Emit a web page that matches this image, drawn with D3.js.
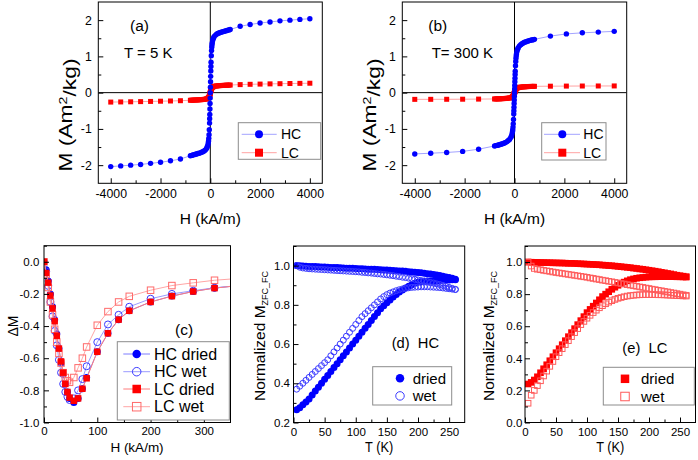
<!DOCTYPE html>
<html><head><meta charset="utf-8">
<script src="https://cdn.jsdelivr.net/npm/d3@7"></script>
<style>body{margin:0;background:#fff}</style>
</head><body>
<svg id="c" width="698" height="460" xmlns="http://www.w3.org/2000/svg"></svg>
<script>
// ---------------- DATA ----------------
// (a) T = 5 K hysteresis
const hA = [-4000,-3600,-3200,-2800,-2400,-2000,-1600,-1200,-800,-750,-700,-650,-600,-550,-500,-450,-400,-350,-300,-250,-200,-150,-125,-100,-80,-70,-60,-50,-40,-30,-25,-20,-15,-10,-5,0,5,10,15,20,25,30,40,50,60,70,80,100,125,150,200,250,300,350,400,450,500,550,600,650,700,750,800,1200,1600,2000,2400,2800,3200,3600,4000];
const mA_HC = [-2.04,-2.02,-2.0,-1.98,-1.95,-1.92,-1.88,-1.83,-1.74,-1.73,-1.72,-1.71,-1.70,-1.69,-1.68,-1.67,-1.66,-1.645,-1.63,-1.61,-1.58,-1.54,-1.5,-1.45,-1.38,-1.33,-1.26,-1.16,-1.02,-0.84,-0.72,-0.6,-0.45,-0.3,-0.15,0,0.15,0.3,0.45,0.6,0.72,0.84,1.02,1.16,1.26,1.33,1.38,1.45,1.5,1.54,1.58,1.61,1.63,1.645,1.66,1.67,1.68,1.69,1.70,1.71,1.72,1.73,1.74,1.83,1.88,1.92,1.95,1.98,2.0,2.02,2.04];
const mA_LC = [-0.26,-0.256,-0.252,-0.247,-0.242,-0.236,-0.23,-0.222,-0.21,-0.208,-0.207,-0.205,-0.203,-0.201,-0.199,-0.197,-0.195,-0.192,-0.189,-0.185,-0.18,-0.172,-0.166,-0.158,-0.148,-0.141,-0.132,-0.12,-0.105,-0.084,-0.072,-0.06,-0.045,-0.03,-0.015,0,0.015,0.03,0.045,0.06,0.072,0.084,0.105,0.12,0.132,0.141,0.148,0.158,0.166,0.172,0.18,0.185,0.189,0.192,0.195,0.197,0.199,0.201,0.203,0.205,0.207,0.208,0.21,0.222,0.23,0.236,0.242,0.247,0.252,0.256,0.26];
// (b) T = 300 K hysteresis
const hB = [-4000,-3360,-2720,-2080,-1440,-800,-750,-700,-650,-600,-550,-500,-450,-400,-350,-300,-250,-200,-150,-125,-100,-80,-70,-60,-50,-40,-30,-25,-20,-15,-10,-5,0,5,10,15,20,25,30,40,50,60,70,80,100,125,150,200,250,300,350,400,450,500,550,600,650,700,750,800,1440,2080,2720,3360,4000];
const mB_HC = [-1.69,-1.67,-1.65,-1.62,-1.56,-1.47,-1.46,-1.455,-1.445,-1.435,-1.425,-1.415,-1.40,-1.39,-1.37,-1.35,-1.32,-1.29,-1.24,-1.2,-1.14,-1.07,-1.02,-0.95,-0.86,-0.74,-0.59,-0.5,-0.4,-0.3,-0.2,-0.1,0,0.1,0.2,0.3,0.4,0.5,0.59,0.74,0.86,0.95,1.02,1.07,1.14,1.2,1.24,1.29,1.32,1.35,1.37,1.39,1.40,1.415,1.425,1.435,1.445,1.455,1.46,1.47,1.56,1.62,1.65,1.67,1.69];
const mB_LC = [-0.185,-0.184,-0.183,-0.181,-0.178,-0.174,-0.173,-0.172,-0.171,-0.17,-0.168,-0.166,-0.164,-0.162,-0.159,-0.156,-0.152,-0.147,-0.14,-0.135,-0.127,-0.117,-0.11,-0.1,-0.09,-0.075,-0.06,-0.05,-0.04,-0.03,-0.02,-0.01,0,0.01,0.02,0.03,0.04,0.05,0.06,0.075,0.09,0.1,0.11,0.117,0.127,0.135,0.14,0.147,0.152,0.156,0.159,0.162,0.164,0.166,0.168,0.17,0.171,0.172,0.173,0.174,0.178,0.181,0.183,0.184,0.185];
// (c) Delta M
const hC = [0,4,8,12,16,20,24,28,32,36,40,44,48,56,64,72,80,100,120,140,160,200,240,280,320,360];
const dM_HCdried = [0,-0.05,-0.12,-0.2,-0.28,-0.36,-0.45,-0.54,-0.63,-0.70,-0.76,-0.81,-0.85,-0.875,-0.85,-0.79,-0.72,-0.56,-0.445,-0.36,-0.305,-0.25,-0.213,-0.185,-0.163,-0.15];
const dM_HCwet   = [0,-0.06,-0.15,-0.25,-0.34,-0.43,-0.52,-0.61,-0.69,-0.76,-0.81,-0.84,-0.86,-0.85,-0.80,-0.73,-0.65,-0.50,-0.39,-0.33,-0.28,-0.23,-0.20,-0.18,-0.162,-0.15];
const dM_LCdried = [0,-0.07,-0.13,-0.21,-0.29,-0.37,-0.46,-0.54,-0.62,-0.69,-0.76,-0.81,-0.845,-0.865,-0.85,-0.79,-0.725,-0.56,-0.445,-0.36,-0.305,-0.25,-0.214,-0.185,-0.164,-0.15];
const dM_LCwet   = [0,-0.08,-0.16,-0.25,-0.33,-0.42,-0.50,-0.57,-0.63,-0.69,-0.72,-0.74,-0.75,-0.72,-0.66,-0.60,-0.53,-0.395,-0.31,-0.25,-0.215,-0.177,-0.148,-0.131,-0.115,-0.105];
// (d),(e) ZFC/FC
const tK = [5,10,15,20,25,30,35,40,45,50,55,60,65,70,75,80,85,90,95,100,105,110,115,120,125,130,135,140,145,150,155,160,165,170,175,180,185,190,195,200,205,210,215,220,225,230,235,240,245,250,255,260];
const hcDriedZFC = [0.265,0.275,0.29,0.305,0.32,0.34,0.36,0.38,0.40,0.42,0.44,0.46,0.48,0.50,0.52,0.54,0.56,0.58,0.60,0.62,0.64,0.66,0.68,0.70,0.72,0.74,0.76,0.78,0.795,0.81,0.825,0.84,0.853,0.865,0.876,0.886,0.895,0.903,0.91,0.915,0.918,0.92,0.921,0.922,0.922,0.923,0.924,0.925,0.926,0.927,0.928,0.928];
const hcDriedFC = [1.0,0.999,0.998,0.997,0.996,0.995,0.995,0.994,0.993,0.993,0.992,0.991,0.990,0.990,0.989,0.988,0.987,0.987,0.986,0.985,0.984,0.984,0.983,0.982,0.982,0.981,0.980,0.979,0.978,0.977,0.976,0.975,0.974,0.973,0.972,0.971,0.969,0.968,0.966,0.965,0.963,0.961,0.959,0.957,0.955,0.952,0.949,0.946,0.942,0.939,0.935,0.930];
const hcWetZFC = [0.37,0.385,0.40,0.415,0.43,0.445,0.46,0.475,0.49,0.505,0.52,0.54,0.56,0.58,0.60,0.62,0.64,0.66,0.68,0.70,0.72,0.74,0.755,0.77,0.785,0.80,0.815,0.83,0.842,0.852,0.86,0.866,0.872,0.877,0.881,0.884,0.887,0.889,0.89,0.891,0.892,0.892,0.892,0.891,0.890,0.889,0.888,0.886,0.884,0.882,0.880,0.878];
const hcWetFC = [1.0,0.992,0.988,0.986,0.984,0.983,0.982,0.981,0.980,0.979,0.978,0.977,0.976,0.975,0.974,0.973,0.972,0.971,0.970,0.969,0.968,0.966,0.965,0.963,0.962,0.960,0.958,0.957,0.955,0.953,0.951,0.949,0.946,0.944,0.941,0.939,0.936,0.933,0.930,0.927,0.924,0.921,0.918,0.914,0.911,0.907,0.903,0.899,0.894,0.889,0.884,0.879];
const lcDriedZFC = [0.24,0.25,0.265,0.285,0.31,0.335,0.36,0.385,0.41,0.435,0.46,0.485,0.51,0.535,0.56,0.585,0.61,0.635,0.66,0.685,0.705,0.725,0.745,0.765,0.785,0.80,0.815,0.83,0.843,0.855,0.866,0.875,0.883,0.89,0.895,0.899,0.902,0.904,0.906,0.907,0.908,0.908,0.909,0.909,0.909,0.909,0.909,0.909,0.908,0.908,0.907,0.906];
const lcDriedFC = [1.0,0.999,0.998,0.998,0.997,0.997,0.996,0.996,0.995,0.995,0.994,0.994,0.993,0.992,0.992,0.991,0.990,0.989,0.988,0.987,0.986,0.985,0.984,0.983,0.981,0.980,0.978,0.977,0.975,0.973,0.971,0.969,0.967,0.965,0.962,0.960,0.957,0.955,0.952,0.949,0.946,0.943,0.940,0.936,0.933,0.929,0.926,0.922,0.918,0.915,0.912,0.909];
const lcWetZFC = [0.12,0.17,0.20,0.23,0.26,0.29,0.32,0.35,0.38,0.41,0.435,0.46,0.485,0.51,0.535,0.56,0.585,0.61,0.63,0.65,0.668,0.685,0.70,0.715,0.728,0.74,0.75,0.759,0.767,0.774,0.779,0.784,0.788,0.791,0.793,0.795,0.796,0.797,0.797,0.797,0.797,0.797,0.796,0.796,0.795,0.794,0.793,0.792,0.791,0.790,0.789,0.788];
const lcWetFC = [1.0,0.975,0.96,0.955,0.952,0.948,0.945,0.942,0.938,0.935,0.932,0.929,0.926,0.923,0.92,0.917,0.914,0.911,0.908,0.905,0.901,0.898,0.894,0.891,0.887,0.884,0.88,0.877,0.873,0.87,0.866,0.863,0.859,0.856,0.852,0.849,0.845,0.842,0.838,0.835,0.831,0.828,0.824,0.821,0.817,0.814,0.810,0.807,0.803,0.80,0.796,0.793];
// tick labels
const ticksHx = [-4000,-2000,0,2000,4000], minorHx = [-3000,-1000,1000,3000];
const ticksMy = [-2,-1,0,1,2], minorMy = [-1.5,-0.5,0.5,1.5];
const ticksCx = [0,100,200,300], minorCx = [50,150,250];
const ticksCy = [0,-0.2,-0.4,-0.6,-0.8,-1.0], minorCy = [0.1,-0.1,-0.3,-0.5,-0.7,-0.9];
const ticksTx = [0,50,100,150,200,250], minorTx = [25,75,125,175,225];
const ticksDy = [0.2,0.4,0.6,0.8,1.0], minorDy = [0.3,0.5,0.7,0.9,1.1];
const ticksEy = [0,0.2,0.4,0.6,0.8,1.0], minorEy = [0.1,0.3,0.5,0.7,0.9,1.1];

// ---------------- DRAWING ----------------
const FONT = "'Liberation Sans', Arial, Helvetica, sans-serif";
const BLUE = "#0000ff", RED = "#ff0000";
const svg = d3.select("#c");

function txt(g, x, y, s, size, o = {}) {
  let tr = `translate(${x},${y})`;
  if (o.rot) tr += ` rotate(${o.rot})`;
  if (o.sx) tr += ` scale(${o.sx},1)`;
  const t = g.append("text").attr("transform", tr).attr("font-family", FONT)
    .attr("font-size", size).attr("text-anchor", o.anchor || "start").attr("fill", "#000")
    .style("white-space", "pre");
  if (o.parts) {
    o.parts.forEach(p => {
      const ts = t.append("tspan").text(p.t);
      if (p.size) ts.attr("font-size", p.size);
      if (p.dy) ts.attr("dy", p.dy);
    });
  } else t.text(s);
  if (o.len) t.attr("textLength", o.len).attr("lengthAdjust", "spacingAndGlyphs");
  return t;
}

function panel(o) {
  const x = d3.scaleLinear().domain(o.xd).range([o.L, o.R]);
  const y = d3.scaleLinear().domain(o.yd).range([o.B, o.T]);
  const g = svg.append("g");
  svg.append("clipPath").attr("id", "cp" + o.id).append("rect")
    .attr("x", o.L).attr("y", o.T).attr("width", o.R - o.L).attr("height", o.B - o.T);
  const plot = g.append("g").attr("clip-path", `url(#cp${o.id})`);
  const fs = o.fs || 11.5;
  const style = sel => {
    sel.select(".domain").remove();
    sel.attr("font-family", FONT).attr("font-size", fs);
    sel.selectAll("line").attr("stroke", "#000");
    sel.selectAll("text").attr("fill", "#000");
  };
  g.append("g").attr("transform", `translate(0,${o.B})`)
    .call(d3.axisBottom(x).tickValues(o.xt).tickFormat(o.xf).tickSizeInner(-5).tickSizeOuter(0).tickPadding(o.xp)).call(style);
  g.append("g").attr("transform", `translate(0,${o.B})`)
    .call(d3.axisBottom(x).tickValues(o.xm).tickFormat("").tickSizeInner(-3).tickSizeOuter(0)).call(style);
  g.append("g").attr("transform", `translate(${o.L},0)`)
    .call(d3.axisLeft(y).tickValues(o.yt).tickFormat(o.yf).tickSizeInner(-5).tickSizeOuter(0).tickPadding(o.yp)).call(style);
  g.append("g").attr("transform", `translate(${o.L},0)`)
    .call(d3.axisLeft(y).tickValues(o.ym).tickFormat("").tickSizeInner(-3).tickSizeOuter(0)).call(style);
  const top = svg.append("g");
  top.append("rect").attr("x", o.L).attr("y", o.T).attr("width", o.R - o.L).attr("height", o.B - o.T)
    .attr("fill", "none").attr("stroke", "#000").attr("stroke-width", 1);
  return { x, y, g, plot, top };
}

const intF = d => String(d);
const f1 = d => d.toFixed(1);

function series(p, X, Y, s) {
  const idx = d3.range(X.length);
  if (s.line) {
    p.plot.append("path").attr("d", d3.line().x(i => p.x(X[i])).y(i => p.y(Y[i]))(idx))
      .attr("fill", "none").attr("stroke", s.line).attr("stroke-width", 1);
  }
  const mg = p.plot.append("g");
  if (s.shape === "circle") {
    mg.selectAll("circle").data(idx).join("circle")
      .attr("cx", i => p.x(X[i])).attr("cy", i => p.y(Y[i])).attr("r", s.size / 2)
      .attr("fill", s.open ? "none" : s.color).attr("stroke", s.color).attr("stroke-width", s.open ? 1 : 0);
  } else {
    mg.selectAll("rect").data(idx).join("rect")
      .attr("x", i => p.x(X[i]) - s.size / 2).attr("y", i => p.y(Y[i]) - s.size / 2)
      .attr("width", s.size).attr("height", s.size)
      .attr("fill", s.open ? "none" : s.color).attr("stroke", s.color).attr("stroke-width", s.open ? 1 : 0);
  }
}

function marker(g, cx, cy, s) {
  if (s.shape === "circle") g.append("circle").attr("cx", cx).attr("cy", cy).attr("r", s.size / 2)
    .attr("fill", s.open ? "none" : s.color).attr("stroke", s.color).attr("stroke-width", s.open ? 1 : 0);
  else g.append("rect").attr("x", cx - s.size / 2).attr("y", cy - s.size / 2).attr("width", s.size).attr("height", s.size)
    .attr("fill", s.open ? "none" : s.color).attr("stroke", s.color).attr("stroke-width", s.open ? 1 : 0);
}

function legend(g, box, rows, o) {
  g.append("rect").attr("x", box[0]).attr("y", box[1]).attr("width", box[2] - box[0]).attr("height", box[3] - box[1])
    .attr("fill", "#fff").attr("stroke", "#8c8c8c").attr("stroke-width", 1);
  rows.forEach(r => {
    if (o.line) g.append("line").attr("x1", o.l1).attr("x2", o.l2).attr("y1", r.y).attr("y2", r.y)
      .attr("stroke", r.s.line).attr("stroke-width", 1);
    marker(g, o.mx, r.y, Object.assign({}, r.s, { size: o.ms }));
    txt(g, o.tx, r.y + o.fs * 0.36, r.label, o.fs);
  });
}

// ---- (a) and (b) ----
function hystPanel(id, L, R, H, mHC, mLC, lab, tLab, tX, box, lg) {
  const p = panel({ id, L, R, T: 2, B: 183.3, xd: [-4500, 4500], yd: [-2.5, 2.5], fs: 12.3,
    xt: ticksHx, xm: minorHx, xf: intF, xp: 6, yt: ticksMy, ym: minorMy, yf: intF, yp: 6.5 });
  p.plot.append("line").attr("x1", p.x(0)).attr("x2", p.x(0)).attr("y1", 2).attr("y2", 183.3).attr("stroke", "#000");
  p.plot.append("line").attr("x1", L).attr("x2", R).attr("y1", p.y(0)).attr("y2", p.y(0)).attr("stroke", "#000");
  const sLC = { shape: "square", size: 5, color: RED, line: "#ffa3a3" };
  const sHC = { shape: "circle", size: 5.4, color: BLUE, line: "#a3a3ff" };
  series(p, H, mLC, sLC);
  series(p, H, mHC, sHC);
  txt(p.top, tX[0], 30.5, lab, 15.5);
  txt(p.top, tX[1], 57.5, tLab, 15);
  legend(p.top, box, [{ y: 134.3, label: "HC", s: sHC }, { y: 152.7, label: "LC", s: sLC }],
    { line: true, l1: lg[0], l2: lg[1], mx: lg[2], tx: lg[3], ms: 8, fs: 14 });
  const mid = (L + R) / 2;
  txt(p.top, mid, 223.5, "H (kA/m)", 15.5, { anchor: "middle" });
  txt(p.top, L - 26, 115, "", 17.5, { rot: -90, anchor: "middle", len: 113,
    parts: [{ t: "M (Am" }, { t: "2", size: 11, dy: "-0.5em" }, { t: "/kg)", dy: "0.5em" }] });
  return p;
}
hystPanel("a", 98.3, 322.3, hA, mA_HC, mA_LC, "(a)", "T = 5 K", [130, 124], [238.3, 122.7, 320.7, 159.3], [241.7, 276.7, 259, 281]);
hystPanel("b", 402.3, 626.7, hB, mB_HC, mB_LC, "(b)", "T= 300 K", [428.3, 431.7], [541.7, 122.7, 606, 160], [544, 580, 562.3, 583.3]);

// ---- (c) ----
{
  const p = panel({ id: "c", L: 44, R: 230.5, T: 245.7, B: 422.5, xd: [0, 350], yd: [-1.0, 0.1],
    xt: ticksCx, xm: minorCx, xf: intF, xp: 4, yt: ticksCy, ym: minorCy, yf: f1, yp: 4.7 });
  const sHCd = { shape: "circle", size: 7, color: BLUE, line: "#7c7cff" };
  const sHCw = { shape: "circle", size: 7, color: "#3b3bff", open: true, line: "#9a9aff" };
  const sLCd = { shape: "square", size: 6.5, color: RED, line: "#ff7c7c" };
  const sLCw = { shape: "square", size: 6.5, color: "#ff6a6a", open: true, line: "#ffa5a5" };
  series(p, hC, dM_HCdried, sHCd);
  series(p, hC, dM_HCwet, sHCw);
  series(p, hC, dM_LCwet, sLCw);
  series(p, hC, dM_LCdried, sLCd);
  txt(p.top, 175, 334.5, "(c)", 15.5);
  legend(p.top, [117.3, 341.7, 229.3, 420], [
    { y: 354, label: "HC dried", s: sHCd }, { y: 371.7, label: "HC wet", s: sHCw },
    { y: 389, label: "LC dried", s: sLCd }, { y: 406.7, label: "LC wet", s: sLCw }],
    { line: true, l1: 123.3, l2: 150, mx: 136.7, tx: 154, ms: 8.5, fs: 16 });
  txt(p.top, 137, 451.5, "H (kA/m)", 13.5, { anchor: "middle" });
  txt(p.top, 18, 326, "\u0394M", 14, { rot: -90, anchor: "middle" });
}

// ---- (d),(e) ----
function zfcPanel(id, L, R, yd, yt, ym, yp, dZ, dF, wZ, wF, shape, colW, lab, labX, labY, box, lgX, titleX) {
  const p = panel({ id, L, R, T: 246, B: 422.5, xd: [0, 275], yd,
    xt: ticksTx, xm: minorTx, xf: intF, xp: 5, yt, ym, yf: f1, yp });
  const col = shape === "circle" ? BLUE : RED;
  const sD = { shape, size: shape === "circle" ? 7 : 6.6, color: col };
  const sW = { shape, size: shape === "circle" ? 6 : 5.6, color: colW, open: true };
  series(p, tK, dZ, sD);
  series(p, tK, dF, sD);
  series(p, tK, wZ, sW);
  series(p, tK, wF, sW);
  txt(p.top, labX, labY, lab, 15.5, { sx: 0.95 });
  legend(p.top, box, [{ y: box[1] + 11.5, label: "dried", s: sD }, { y: box[1] + 29.2, label: "wet", s: sW }],
    { line: false, mx: lgX[0], tx: lgX[1], ms: 8.5, fs: 15 });
  txt(p.top, (L + R) / 2, 452, "T (K)", 15, { anchor: "middle", sx: 0.85 });
  txt(p.top, titleX, 336, "", 15.5, { rot: -90, anchor: "middle",
    parts: [{ t: "Normalized M" }, { t: "ZFC_FC", size: 9, dy: "0.35em" }] });
  return p;
}
zfcPanel("d", 293.5, 464.7, [0.2, 1.1], ticksDy, minorDy, 3.5, hcDriedZFC, hcDriedFC, hcWetZFC, hcWetFC,
  "circle", "#3b3bff", "(d)  HC", 391.7, 348, [372.7, 366.7, 451.7, 405], [400, 412.7], 265);
zfcPanel("e", 525, 695.5, [0, 1.1], ticksEy, minorEy, 2.7, lcDriedZFC, lcDriedFC, lcWetZFC, lcWetFC,
  "square", "#ff5a5a", "(e)  LC", 622.3, 352.5, [603.3, 367.3, 694.3, 405], [625, 641], 494);
</script></body></html>
